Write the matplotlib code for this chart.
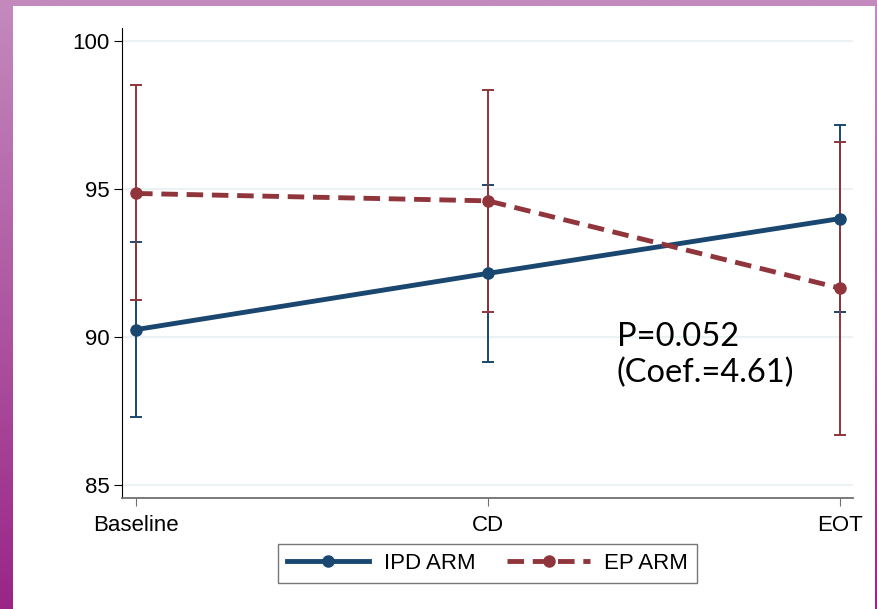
"""Mean score by visit for the two study arms, with 95% CI error bars."""

import matplotlib
import numpy as np

matplotlib.use("Agg")
from matplotlib import pyplot as plt  # noqa: E402
from matplotlib.patches import Rectangle  # noqa: E402

visits = ["Baseline", "CD", "EOT"]

ipd_mean = [90.25, 92.15, 94.0]
ipd_low = [87.3, 89.15, 90.85]
ipd_high = [93.2, 95.15, 97.15]

ep_mean = [94.85, 94.6, 91.65]
ep_low = [91.25, 90.85, 86.7]
ep_high = [98.5, 98.35, 96.6]

y_ticks = [85, 90, 95, 100]
annotation = ["P=0.052", "(Coef.=4.61)"]

BLUE = "#1a476f"
RED = "#90353b"
GRID = "#eaf2f3"

plt.rcParams["font.family"] = ["Liberation Sans", "DejaVu Sans"]

W, H = 877, 609
fig = plt.figure(figsize=(W / 100, H / 100), dpi=100)

# purple slide frame behind the chart
bg = fig.add_axes([0, 0, 1, 1], zorder=-10)
bg.set_axis_off()
bg.set_xlim(0, W)
bg.set_ylim(0, H)
shade = np.linspace(0, 1, 256).reshape(-1, 1)
cmap = matplotlib.colors.LinearSegmentedColormap.from_list(
    "frame", ["#9a2587", "#c48abd"]
)
bg.imshow(shade, cmap=cmap, extent=(0, W, 0, H), aspect="auto", origin="lower")
bg.add_patch(Rectangle((13, 0), 875 - 13, H - 6, facecolor="white", edgecolor="none"))

ax = fig.add_axes([122 / W, 111 / H, (853 - 122) / W, (581 - 111) / H])
ax.set_facecolor("none")
x = np.arange(len(visits))


def draw_arm(mean, low, high, color, style, label):
    mean = np.asarray(mean)
    err = [mean - np.asarray(low), np.asarray(high) - mean]
    ax.errorbar(x, mean, yerr=err, fmt="none", ecolor=color, elinewidth=1.4,
                capsize=4, capthick=1.4, zorder=2)
    line, = ax.plot(x, mean, color=color, linestyle=style, linewidth=3.5,
                    marker="o", markersize=8, label=label, zorder=3)
    if style == "--":
        line.set_dashes((3.4, 1.8))
    return line


draw_arm(ipd_mean, ipd_low, ipd_high, BLUE, "-", "IPD ARM")
draw_arm(ep_mean, ep_low, ep_high, RED, "--", "EP ARM")

ax.set_xlim(-0.04, 2.037)
ax.set_ylim(84.56, 100.44)
ax.set_xticks(x, visits)
ax.set_yticks(y_ticks)
ax.yaxis.grid(True, color=GRID, linewidth=1.5)
ax.set_axisbelow(True)
for side in ("top", "right"):
    ax.spines[side].set_visible(False)
ax.spines["left"].set_color("black")
ax.spines["bottom"].set_color("#707070")
ax.spines["bottom"].set_linewidth(1.3)
ax.tick_params(axis="y", labelsize=16, length=6, color="black", pad=3)
ax.tick_params(axis="x", labelsize=16, length=6, color="#707070", pad=6)

note_font = ["Lato", "DejaVu Sans"]
ax.text(1.366, 89.68, annotation[0], fontsize=23.5, family=note_font,
        va="baseline", ha="left")
ax.text(1.366, 88.46, annotation[1], fontsize=23.5, family=note_font,
        va="baseline", ha="left")

fig.legend(loc="center", bbox_to_anchor=(487.5 / W, (609 - 563.5) / H), ncol=2,
           fontsize=16, handlelength=3.7, handletextpad=0.65, columnspacing=1.45,
           frameon=True, fancybox=False, edgecolor="#555555", borderpad=0.4)

fig.savefig("out.png", dpi=100)
